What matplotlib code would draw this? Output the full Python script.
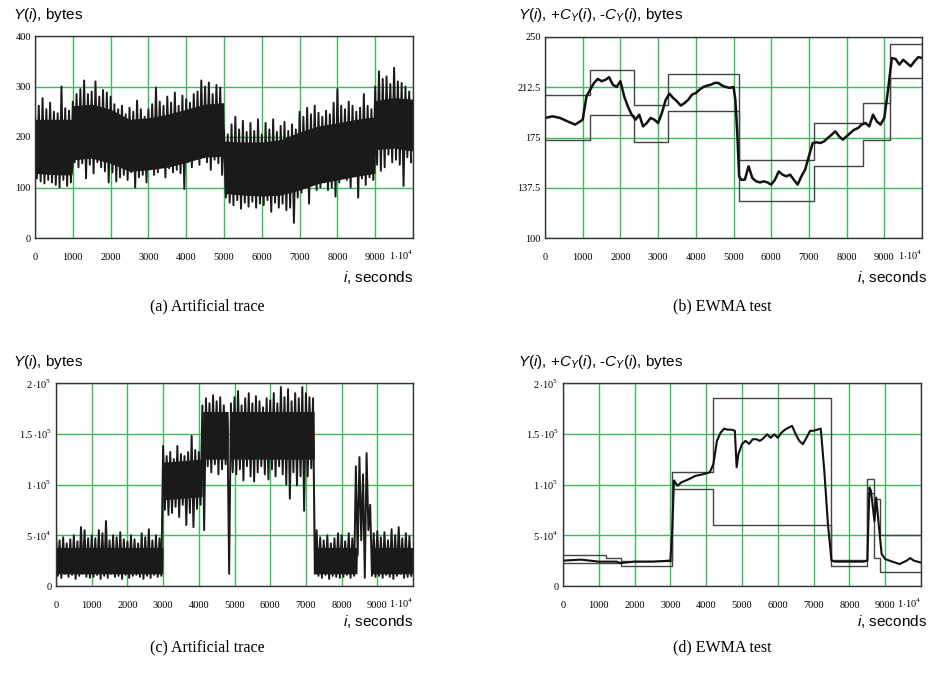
import numpy as np
import matplotlib
matplotlib.use("Agg")
from matplotlib import pyplot as plt

plt.rcParams['mathtext.fontset'] = 'custom'
plt.rcParams['mathtext.rm'] = 'Liberation Serif'
plt.rcParams['mathtext.it'] = 'Liberation Sans:italic'

# --- trace (a): peak / trough of each 100 s bin, bytes ---
a_hi = [250, 262, 277, 255, 268, 250, 247, 300, 257, 252,
        270, 285, 295, 312, 285, 290, 310, 280, 293, 288,
        280, 265, 255, 262, 245, 258, 250, 272, 255, 240,
        255, 265, 298, 270, 262, 280, 268, 288, 262, 282,
        275, 268, 285, 290, 312, 300, 308, 285, 303, 298,
        215, 205, 225, 240, 215, 232, 210, 228, 212, 235,
        205, 228, 215, 235, 210, 222, 230, 212, 225, 215,
        250, 240, 258, 245, 262, 248, 240, 252, 245, 268,
        295, 262, 255, 270, 262, 250, 258, 285, 262, 255,
        300, 330, 315, 320, 305, 337, 310, 307, 300, 290]
a_lo = [118, 112, 108, 115, 110, 105, 100, 115, 103, 110,
        150, 140, 148, 118, 145, 128, 150, 140, 132, 110,
        130, 112, 120, 125, 115, 130, 100, 120, 125, 110,
        140, 125, 130, 145, 120, 138, 130, 135, 128, 97,
        150, 140, 158, 145, 160, 150, 135, 155, 148, 125,
        80, 70, 65, 75, 58, 70, 62, 72, 60, 68,
        65, 75, 52, 70, 60, 68, 55, 60, 30, 80,
        90, 100, 68, 105, 95, 100, 110, 95, 100, 82,
        110, 120, 115, 100, 125, 80, 118, 105, 120, 115,
        145, 133, 140, 165, 150, 155, 145, 103, 160, 150]
# dense part of trace (a)
a_core_t = [0, 600, 980, 1020, 1500, 2000, 2500, 3000, 3500, 4000, 4500,
            4990, 5010, 5500, 6000, 6500, 7000, 7500, 8000, 8500, 8990, 9010,
            9500, 10000]
a_core_hi = [235, 235, 235, 262, 265, 255, 235, 238, 245, 255, 265,
             268, 192, 190, 190, 195, 210, 222, 228, 235, 240, 272,
             278, 275]
a_core_lo = [128, 125, 125, 155, 158, 148, 132, 135, 140, 150, 160,
             162, 88, 85, 83, 85, 95, 108, 115, 122, 128, 175,
             178, 172]

# --- trace (c): same, in thousands of bytes ---
c_hi = [52, 45, 48, 42, 46, 50, 44, 58, 55, 47,
        50, 47, 55, 52, 64, 45, 50, 48, 53, 46,
        44, 50, 46, 42, 52, 48, 56, 45, 50, 47,
        138, 128, 132, 125, 138, 130, 128, 132, 148, 134,
        132, 178, 185, 180, 188, 182, 186, 178, 165, 180,
        186, 192, 178, 185, 190, 180, 187, 182, 176, 185,
        183, 190, 180, 196, 186, 194, 182, 190, 185, 196,
        190, 186, 185, 55, 48, 45, 50, 42, 47, 52,
        50, 44, 52, 47, 118, 127, 110, 131, 80, 52,
        54, 48, 53, 45, 56, 50, 58, 47, 52, 49]
c_lo = [10, 8, 12, 9, 11, 7, 10, 12, 9, 8,
        9, 11, 7, 10, 8, 12, 9, 10, 7, 11,
        8, 10, 11, 9, 7, 10, 8, 11, 9, 10,
        75, 70, 72, 78, 68, 80, 60, 72, 58, 76,
        80, 55, 118, 112, 120, 110, 115, 120, 12, 112,
        110, 115, 104, 118, 108, 103, 112, 118, 110, 105,
        115, 108, 118, 110, 100, 86, 112, 99, 108, 74,
        108, 116, 12, 10, 8, 11, 7, 10, 9, 8,
        9, 11, 8, 10, 30, 45, 8, 55, 10, 9,
        10, 8, 11, 9, 7, 10, 12, 8, 9, 10]
# dense part of trace (c)
c_core_t = [0, 2990, 3010, 4090, 4110, 4820, 4830, 4870, 4880, 7230, 7250,
            8430, 8440, 8830, 8840, 10000]
c_core_hi = [38, 38, 122, 125, 172, 172, 150, 150, 172, 172, 38,
             38, 30, 30, 38, 38]
c_core_lo = [12, 12, 85, 88, 125, 125, 150, 150, 125, 125, 12,
             12, 30, 30, 12, 12]

# --- EWMA test (b) ---
b_t = [0, 200, 400, 600, 800, 1000, 1100, 1200, 1300, 1400, 1500, 1600, 1700,
       1800, 1900, 2000, 2100, 2200, 2300, 2400, 2500, 2600, 2700, 2800, 2900,
       3000, 3100, 3200, 3300, 3400, 3500, 3600, 3700, 3800, 3900, 4000, 4100,
       4200, 4300, 4400, 4500, 4600, 4700, 4800, 4900, 5000, 5050, 5100, 5150,
       5200, 5300, 5400, 5500, 5600, 5700, 5800, 5900, 6000, 6100, 6200, 6300,
       6400, 6500, 6600, 6700, 6800, 6900, 7000, 7100, 7200, 7300, 7400, 7500,
       7600, 7700, 7800, 7900, 8000, 8100, 8200, 8300, 8400, 8500, 8600, 8700,
       8800, 8900, 9000, 9100, 9200, 9300, 9400, 9500, 9600, 9700, 9800, 9900,
       10000]
b_y = [189.6, 190.8, 189.6, 187, 184.6, 188.3, 205.7, 210.7, 215.7, 218.7, 217,
       218, 220, 214.4, 212.7, 217, 205.7, 198, 192, 188.3, 192, 183.3, 185.8,
       189.6, 188.3, 185.8, 193.3, 203, 207.7, 204.5, 202, 198.8, 200.7, 203.2,
       207, 208.2, 210.7, 212.7, 213.7, 214.4, 215.7, 215.7, 213.7, 212.7, 212,
       212.7, 203, 178.4, 146, 143.5, 143.5, 153.5, 144.8, 142.3, 141.5, 142.3,
       141.5, 139.8, 143.5, 149.7, 147.3, 146, 147.3, 143.5, 139.8, 146, 151,
       161, 170.9, 171.4, 170.9, 172, 174.6, 177, 179.6, 175.9, 173.4, 175.9,
       178.4, 180.8, 182, 184.6, 185.8, 183.3, 192, 187, 184.6, 189.6, 210.7,
       234.3, 233.6, 229.4, 233, 230.6, 228.1, 231.8, 235, 234.3]
b_up_t = [0, 1200, 2360, 3250, 5150, 7140, 8430, 9140, 10000]
b_up = [207, 225.5, 199, 222.5, 158.5, 186, 201, 245, 245]
b_lo_t = [0, 1200, 2360, 3250, 5150, 7140, 8430, 9140, 10000]
b_lo = [173, 191.5, 171.5, 195, 127.5, 154, 173.5, 219.5, 219.5]

# --- EWMA test (d), thousands of bytes ---
d_t = [0, 500, 1000, 1500, 1600, 2000, 2500, 3000, 3050, 3100, 3200, 3300,
       3500, 3700, 3900, 4100, 4200, 4300, 4400, 4500, 4600, 4700, 4800, 4850,
       4900, 5000, 5100, 5200, 5300, 5400, 5500, 5600, 5700, 5800, 5900, 6000,
       6100, 6200, 6300, 6400, 6500, 6600, 6700, 6800, 6900, 7000, 7100, 7200,
       7300, 7400, 7500, 7600, 8000, 8400, 8500, 8560, 8600, 8700, 8750, 8800,
       8900, 9000, 9200, 9400, 9600, 9700, 9800, 10000]
d_y = [25, 26, 24, 24, 22.6, 24, 24, 25, 54, 104, 98.7, 102, 105, 108.5, 110,
       112, 120, 143, 151, 155, 154, 154, 153, 117, 130, 139.7, 143, 140, 144.6,
       144.6, 143, 145.6, 149.5, 146, 149.5, 146, 151, 154, 156, 157.7, 149.5,
       143, 139.7, 146, 152.8, 153, 154, 155, 113, 61, 25, 24, 24, 24, 25, 97,
       94, 64, 87, 67.5, 31.5, 26.5, 24, 21.6, 25, 27.5, 25, 23]
d_up_t = [0, 1210, 1630, 3050, 4200, 7480, 8500, 8680, 8860, 10000]
d_up = [30.5, 28, 25, 112, 185.6, 26, 105, 85.6, 50, 50]
d_lo_t = [0, 1630, 3050, 4200, 7480, 8500, 8680, 8860, 10000]
d_lo = [22.3, 20, 96, 60, 20, 92, 28, 13.5, 13.5]

x_ticks = list(range(0, 10001, 1000))
x_labels = [str(v) for v in x_ticks[:-1]] + [r'$1{\cdot}10^{4}$']

W, H = 931, 676
fig = plt.figure(figsize=(W / 100, H / 100), dpi=100)


def box(l, t, r, b):
    return [l / W, 1 - b / H, (r - l) / W, (b - t) / H]


def style(ax, yticks, ylabels, ylim):
    ax.set_xlim(0, 10000)
    ax.set_ylim(*ylim)
    ax.set_xticks(x_ticks)
    ax.set_xticklabels(x_labels)
    ax.set_yticks(yticks)
    ax.set_yticklabels(ylabels)
    ax.tick_params(length=0, labelsize=7.5, pad=3)
    ax.tick_params(axis='x', pad=16)
    for lab in ax.get_xticklabels() + ax.get_yticklabels():
        lab.set_family(['Liberation Serif', 'DejaVu Serif'])
    for lab in ax.get_xticklabels():
        lab.set_va('baseline')
    ax.get_xticklabels()[-1].set_ha('right')
    ax.grid(True, color='#3dbb5c', lw=1.0)
    ax.set_axisbelow(True)
    for s in ax.spines.values():
        s.set_color('#333333')
        s.set_linewidth(1.0)


def zigzag(hi, lo):
    xs = np.arange(0, 10000, 50)
    ys = np.column_stack((hi, lo)).ravel()
    return xs, ys


ax_a = fig.add_axes(box(35, 36, 413, 238))
ax_b = fig.add_axes(box(545, 37, 922, 238))
ax_c = fig.add_axes(box(56, 383, 413, 586))
ax_d = fig.add_axes(box(563, 383, 921, 586))

ink = '#1a1a1a'

# (a) artificial trace
ax_a.fill_between(a_core_t, a_core_lo, a_core_hi, color=ink, lw=0)
xs, ys = zigzag(a_hi, a_lo)
ax_a.plot(xs, ys, color=ink, lw=1.4)
style(ax_a, [0, 100, 200, 300, 400], ['0', '100', '200', '300', '400'], (0, 400))

# (b) EWMA with control limits
ax_b.step(b_up_t, b_up, where='post', color='#444444', lw=1.0)
ax_b.step(b_lo_t, b_lo, where='post', color='#444444', lw=1.0)
ax_b.plot(b_t, b_y, color='#111111', lw=1.8)
style(ax_b, [100, 137.5, 175, 212.5, 250], ['100', '137.5', '175', '212.5', '250'], (100, 250))

# (c) artificial trace
ax_c.fill_between(c_core_t, np.array(c_core_lo) * 1000, np.array(c_core_hi) * 1000,
                  color=ink, lw=0)
xs, ys = zigzag(c_hi, c_lo)
ax_c.plot(xs, np.array(ys) * 1000, color=ink, lw=1.4)
big_ticks = [0, 5e4, 1e5, 1.5e5, 2e5]
big_labels = ['0', r'$5\,{\cdot}10^{4}$', r'$1\,{\cdot}10^{5}$',
              r'$1.5\,{\cdot}10^{5}$', r'$2\,{\cdot}10^{5}$']
style(ax_c, big_ticks, big_labels, (0, 2e5))

# (d) EWMA with control limits
ax_d.step(d_up_t, np.array(d_up) * 1000, where='post', color='#444444', lw=1.0)
ax_d.step(d_lo_t, np.array(d_lo) * 1000, where='post', color='#444444', lw=1.0)
ax_d.plot(d_t, np.array(d_y) * 1000, color='#111111', lw=1.5)
style(ax_d, big_ticks, big_labels, (0, 2e5))

# axis titles and captions
title_a = r'$Y$($i$), bytes'
title_b = r'$Y$($i$), +$C_Y$($i$), -$C_Y$($i$), bytes'
xlab = r'$i$, seconds'
tkw = dict(family='Liberation Sans', fontsize=11, va='center')
fig.text(13 / W, 1 - 15 / H, title_a, ha='left', **tkw)
fig.text(518 / W, 1 - 15 / H, title_b, ha='left', **tkw)
fig.text(13 / W, 1 - 362 / H, title_a, ha='left', **tkw)
fig.text(518 / W, 1 - 362 / H, title_b, ha='left', **tkw)
fig.text(413 / W, 1 - 278 / H, xlab, ha='right', **tkw)
fig.text(927 / W, 1 - 278 / H, xlab, ha='right', **tkw)
fig.text(413 / W, 1 - 621 / H, xlab, ha='right', **tkw)
fig.text(927 / W, 1 - 621 / H, xlab, ha='right', **tkw)

ckw = dict(family='Liberation Serif', fontsize=11.5, ha='center', va='center')
fig.text(207 / W, 1 - 306 / H, '(a) Artificial trace', **ckw)
fig.text(722 / W, 1 - 306 / H, '(b) EWMA test', **ckw)
fig.text(207 / W, 1 - 647 / H, '(c) Artificial trace', **ckw)
fig.text(722 / W, 1 - 647 / H, '(d) EWMA test', **ckw)

fig.savefig('out.png', dpi=100)
